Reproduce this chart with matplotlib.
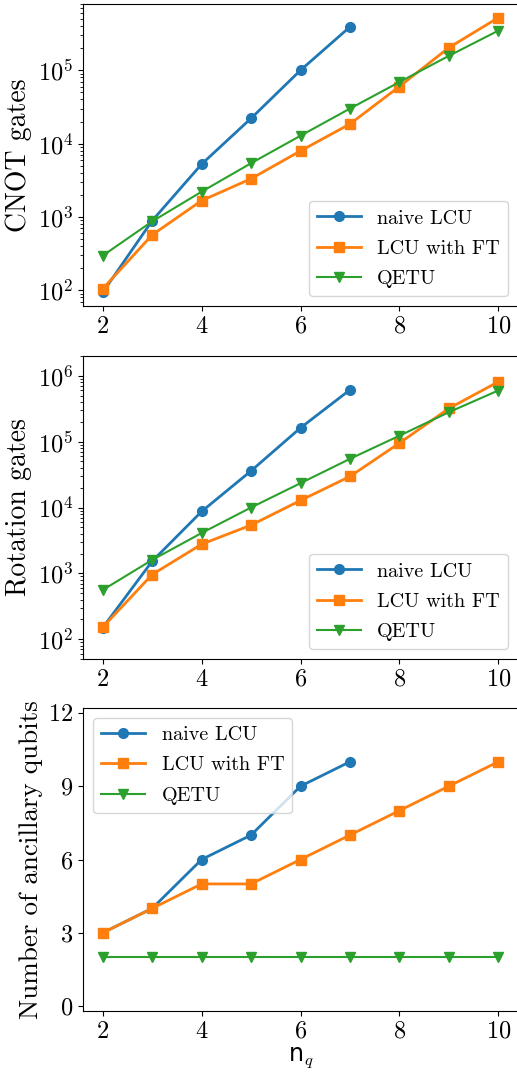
import numpy as np
import matplotlib
matplotlib.use("Agg")
import matplotlib.pyplot as plt

plt.rcParams["font.family"] = "serif"
plt.rcParams["font.serif"] = ["cmr10"]
plt.rcParams["mathtext.fontset"] = "cm"
plt.rcParams["axes.formatter.use_mathtext"] = True
plt.rcParams["axes.unicode_minus"] = False

# data
nq_naive = [2, 3, 4, 5, 6, 7]
nq_all = [2, 3, 4, 5, 6, 7, 8, 9, 10]

cnot_naive = [94, 890, 5250, 22100, 100000, 390000]
cnot_ft = [105, 570, 1670, 3320, 7950, 18500, 60000, 203000, 520000]
cnot_qetu = [297, 870, 2210, 5400, 12800, 30000, 69000, 157000, 346000]

rot_naive = [150, 1530, 8700, 36000, 162000, 612000]
rot_ft = [152, 960, 2770, 5400, 12800, 29600, 95000, 319000, 811000]
rot_qetu = [560, 1600, 4100, 10000, 23400, 54800, 123000, 280000, 598000]

anc_naive = [3, 4, 6, 7, 9, 10]
anc_ft = [3, 4, 5, 5, 6, 7, 8, 9, 10]
anc_qetu = [2, 2, 2, 2, 2, 2, 2, 2, 2]

labels = ["naive LCU", "LCU with FT", "QETU"]

W, H = 517, 1072
fig = plt.figure(figsize=(W / 100, H / 100), dpi=100)


def box(top, bottom, left=83, right=518):
    return [left / W, 1 - bottom / H, (right - left) / W, (bottom - top) / H]


ax1 = fig.add_axes(box(4, 306))
ax2 = fig.add_axes(box(356, 659))
ax3 = fig.add_axes(box(708, 1011))

leg_kw = dict(fontsize=14.5, handlelength=2.2, handletextpad=0.8, labelspacing=0.6)


def draw(ax, naive, ft, qetu):
    ax.plot(nq_naive, naive, "-o", color="C0", lw=2, ms=7, label=labels[0])
    ax.plot(nq_all, ft, "-s", color="C1", lw=2, ms=7, label=labels[1])
    ax.plot(nq_all, qetu, "-v", color="C2", lw=1.5, ms=7, label=labels[2])
    ax.set_xticks([2, 4, 6, 8, 10])
    ax.set_xlim(1.6, 10.4)
    ax.tick_params(axis="both", labelsize=17.5)


draw(ax1, cnot_naive, cnot_ft, cnot_qetu)
ax1.set_yscale("log")
ax1.set_ylabel("CNOT gates", fontsize=20)
ax1.legend(loc="lower right", **leg_kw)

draw(ax2, rot_naive, rot_ft, rot_qetu)
ax2.set_yscale("log")
ax2.set_ylim(50, 2e6)
ax2.set_ylabel("Rotation gates", fontsize=20)
ax2.legend(loc="lower right", **leg_kw)

draw(ax3, anc_naive, anc_ft, anc_qetu)
ax3.set_yticks([0, 3, 6, 9, 12])
ax3.set_ylim(-0.2, 12.2)
ax3.set_ylabel("Number of ancillary qubits", fontsize=19.5)
ax3.set_xlabel("n$_q$", fontsize=17, fontfamily="DejaVu Sans", labelpad=2)
ax3.legend(loc="upper left", **leg_kw)

fig.savefig("out.png", dpi=100)
